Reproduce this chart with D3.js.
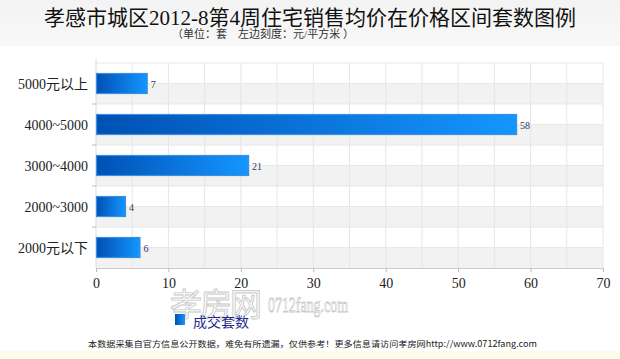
<!DOCTYPE html>
<html><head><meta charset="utf-8">
<script src="https://cdn.jsdelivr.net/npm/d3@7"></script>
<style>body{margin:0;background:#fff}svg{display:block}</style>
</head><body>
<svg id="c" width="620" height="359"></svg>
<script>
const categories = ["5000元以上","4000~5000","3000~4000","2000~3000","2000元以下"];
const values = [7, 58, 21, 4, 6];
const xTicks = [0,10,20,30,40,50,60,70];
const title = "孝感市城区2012-8第4周住宅销售均价在价格区间套数图例";
const subtitle = "（单位：套　左边刻度：元/平方米 ）";
const seriesName = "成交套数";
const footer = "本数据采集自官方信息公开数据，难免有所遗漏，仅供参考！更多信息请访问孝房网http://www.0712fang.com";

const svg = d3.select("#c");
const serif = "'Liberation Serif','DejaVu Serif','Noto Sans CJK SC',serif";
const L = 96, R = 603, T = 63, B = 268;

const defs = svg.append("defs");
const tg = defs.append("linearGradient").attr("id","tbg").attr("x1",0).attr("y1",0).attr("x2",0).attr("y2",1);
tg.append("stop").attr("offset",0).attr("stop-color","#f3f3f3");
tg.append("stop").attr("offset",1).attr("stop-color","#f8f8f8");
const bg = defs.append("linearGradient").attr("id","bar").attr("x1",0).attr("y1",0).attr("x2",1).attr("y2",0);
bg.append("stop").attr("offset",0).attr("stop-color","#0050b4");
bg.append("stop").attr("offset",1).attr("stop-color","#1496ff");

svg.append("rect").attr("x",0).attr("y",0).attr("width",620).attr("height",46).attr("fill","url(#tbg)");
svg.append("rect").attr("x",0).attr("y",351).attr("width",620).attr("height",8).attr("fill","#fcfde9");

svg.append("text").attr("x",310).attr("y",25).attr("text-anchor","middle")
  .attr("font-family",serif).attr("font-size",21).attr("fill","#111").text(title);
svg.append("text").attr("x",263).attr("y",38).attr("text-anchor","middle")
  .attr("font-family",serif).attr("font-size",11).attr("fill","#333").text(subtitle);

const x = d3.scaleLinear().domain([0,70]).range([L,R]);
const y = d3.scaleBand().domain(categories).range([T,B]);

// watermark (behind everything else)
svg.append("text").attr("x",170).attr("y",316).attr("font-family","'Noto Sans CJK SC',sans-serif")
  .attr("font-size",32).attr("fill","none").attr("stroke","#c8c8c8").attr("stroke-width",0.9)
  .attr("textLength",92).attr("lengthAdjust","spacing").text("孝房网");
svg.append("text").attr("x",268).attr("y",312).attr("font-family",serif)
  .attr("font-size",22).attr("fill","none").attr("stroke","#c8c8c8").attr("stroke-width",0.8)
  .attr("textLength",80).attr("lengthAdjust","spacingAndGlyphs").text("0712fang.com");

// stripes (lower half of each band)
svg.append("g").selectAll("rect").data(categories).join("rect")
  .attr("x",L).attr("width",R-L)
  .attr("y",d=>y(d)+y.bandwidth()/2).attr("height",y.bandwidth()/2)
  .attr("fill","#f2f2f2");
const hl = [];
categories.forEach(c=>{hl.push(y(c)); hl.push(y(c)+y.bandwidth()/2);});
svg.append("g").selectAll("line").data(hl).join("line")
  .attr("x1",L).attr("x2",R).attr("y1",d=>d).attr("y2",d=>d)
  .attr("stroke","#e8e8e8").attr("stroke-width",1);
svg.append("g").selectAll("line").data(d3.range(5,71,5)).join("line")
  .attr("x1",d=>x(d)).attr("x2",d=>x(d)).attr("y1",T).attr("y2",B)
  .attr("stroke","#e6e6e6").attr("stroke-width",1);
svg.append("line").attr("x1",L).attr("x2",L).attr("y1",T-4).attr("y2",B).attr("stroke","#dcdcdc");

svg.append("g").selectAll("line").data(categories.slice(1)).join("line")
  .attr("x1",L-4).attr("x2",L).attr("y1",d=>y(d)).attr("y2",d=>y(d)).attr("stroke","#bbb");

const xa = svg.append("g").attr("transform",`translate(0,${B})`)
  .call(d3.axisBottom(x).tickValues(xTicks).tickSize(4).tickPadding(6));
xa.select(".domain").attr("stroke","#ccc");
xa.selectAll(".tick line").attr("stroke","#bbb");
xa.selectAll("text").attr("font-family",serif).attr("font-size",14).attr("fill","#222");

svg.append("g").selectAll("text").data(categories).join("text")
  .attr("x",L-8).attr("y",d=>y(d)+y.bandwidth()/2+5).attr("text-anchor","end")
  .attr("font-family",serif).attr("font-size",14).attr("fill","#222").text(d=>d);

const bh = 20;
svg.append("g").selectAll("rect").data(values).join("rect")
  .attr("x",x(0)+0.5).attr("y",(d,i)=>y(categories[i])+y.bandwidth()/2-bh/2)
  .attr("width",d=>x(d)-x(0)).attr("height",bh)
  .attr("fill","url(#bar)").attr("stroke","#3a8fe0").attr("stroke-width",1.2);
svg.append("g").selectAll("text").data(values).join("text")
  .attr("x",d=>x(d)+4).attr("y",(d,i)=>y(categories[i])+y.bandwidth()/2+4)
  .attr("font-family",serif).attr("font-size",10).attr("fill","#2a3a6a").text(d=>d);

// legend
svg.append("rect").attr("x",175).attr("y",314).attr("width",10).attr("height",11).attr("fill","url(#bar)");
svg.append("text").attr("x",193).attr("y",327).attr("font-family","'Noto Sans CJK SC',sans-serif")
  .attr("font-size",14).attr("fill","#1f2a8a").text(seriesName);

svg.append("text").attr("x",88).attr("y",347)
  .attr("font-family","'Noto Sans CJK SC',sans-serif").attr("font-size",8.5).attr("fill","#222")
  .attr("textLength",449).attr("lengthAdjust","spacingAndGlyphs").text(footer);
</script>
</body></html>
